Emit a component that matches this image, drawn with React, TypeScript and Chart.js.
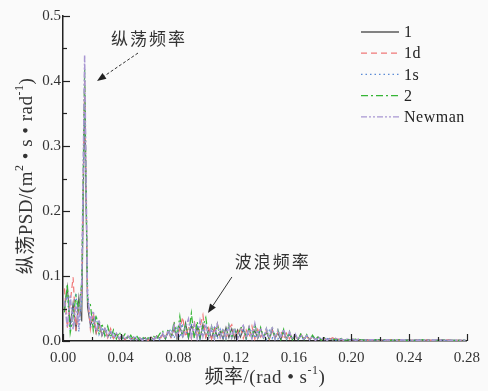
import { useEffect, useRef } from 'react';
import { Chart, registerables } from 'chart.js';

Chart.register(...registerables);

// Frequency grid, rad/s
const freq = [
  0.001, 0.003, 0.005, 0.007, 0.009, 0.011, 0.013, 0.015, 0.017, 0.019,
  0.021, 0.023, 0.025, 0.027, 0.029, 0.031, 0.033, 0.035, 0.037, 0.039,
  0.041, 0.043, 0.045, 0.047, 0.049, 0.051, 0.053, 0.055, 0.057, 0.059,
  0.061, 0.063, 0.065, 0.067, 0.069, 0.071, 0.073, 0.075, 0.077, 0.079,
  0.081, 0.083, 0.085, 0.087, 0.089, 0.091, 0.093, 0.095, 0.097, 0.099,
  0.101, 0.103, 0.105, 0.107, 0.109, 0.111, 0.113, 0.115, 0.117, 0.119,
  0.121, 0.123, 0.125, 0.127, 0.129, 0.131, 0.133, 0.135, 0.137, 0.139,
  0.141, 0.143, 0.145, 0.147, 0.149, 0.151, 0.153, 0.155, 0.157, 0.159,
  0.161, 0.163, 0.165, 0.167, 0.169, 0.171, 0.173, 0.175, 0.177, 0.179,
  0.181, 0.183, 0.185, 0.187, 0.189, 0.191, 0.193, 0.195, 0.197, 0.199,
  0.201, 0.203, 0.205, 0.207, 0.209, 0.211, 0.213, 0.215, 0.217, 0.219,
  0.221, 0.223, 0.225, 0.227, 0.229, 0.231, 0.233, 0.235, 0.237, 0.239,
  0.241, 0.243, 0.245, 0.247, 0.249, 0.251, 0.253, 0.255, 0.257, 0.259,
  0.261, 0.263, 0.265, 0.267, 0.269, 0.271, 0.273, 0.275, 0.277, 0.279,
];

// Surge PSD, m^2·s·rad^-1
const psd1 = [
  0.048, 0.083, 0.024, 0.058, 0.015, 0.067, 0.030, 0.38, 0.052, 0.024,
  0.036, 0.012, 0.029, 0.008, 0.019, 0.006, 0.014, 0.004, 0.011, 0.003,
  0.008, 0.002, 0.007, 0.003, 0.006, 0.002, 0.004, 0.002, 0.005, 0.001,
  0.006, 0.002, 0.008, 0.004, 0.010, 0.003, 0.015, 0.006, 0.019, 0.004,
  0.022, 0.007, 0.028, 0.004, 0.024, 0.008, 0.021, 0.003, 0.026, 0.006,
  0.018, 0.004, 0.020, 0.007, 0.015, 0.003, 0.021, 0.005, 0.019, 0.004,
  0.017, 0.006, 0.018, 0.003, 0.022, 0.005, 0.016, 0.004, 0.019, 0.006,
  0.013, 0.003, 0.018, 0.005, 0.012, 0.002, 0.014, 0.004, 0.010, 0.003,
  0.009, 0.002, 0.010, 0.003, 0.008, 0.002, 0.007, 0.002, 0.006, 0.001,
  0.005, 0.002, 0.004, 0.001, 0.004, 0.002, 0.003, 0.001, 0.002, 0.002,
  0.003, 0.002, 0.002, 0.001, 0.002, 0.002, 0.001, 0.002, 0.002, 0.001,
  0.001, 0.002, 0.001, 0.002, 0.001, 0.001, 0.002, 0.001, 0.001, 0.002,
  0.001, 0.001, 0.002, 0.001, 0.001, 0.001, 0.002, 0.001, 0.001, 0.001,
  0.001, 0.002, 0.001, 0.001, 0.001, 0.001, 0.001, 0.001, 0.001, 0.001,
];

const psd1d = [
  0.081, 0.020, 0.059, 0.098, 0.016, 0.052, 0.079, 0.40, 0.071, 0.018,
  0.044, 0.013, 0.025, 0.009, 0.018, 0.005, 0.019, 0.004, 0.010, 0.003,
  0.007, 0.002, 0.006, 0.002, 0.005, 0.001, 0.005, 0.002, 0.003, 0.001,
  0.005, 0.001, 0.007, 0.002, 0.009, 0.004, 0.017, 0.003, 0.026, 0.005,
  0.019, 0.037, 0.006, 0.023, 0.004, 0.031, 0.005, 0.022, 0.040, 0.006,
  0.020, 0.003, 0.017, 0.027, 0.005, 0.015, 0.004, 0.019, 0.025, 0.006,
  0.012, 0.022, 0.004, 0.017, 0.005, 0.023, 0.003, 0.018, 0.006, 0.013,
  0.016, 0.003, 0.017, 0.004, 0.013, 0.016, 0.002, 0.012, 0.003, 0.011,
  0.008, 0.002, 0.009, 0.003, 0.006, 0.002, 0.007, 0.001, 0.005, 0.002,
  0.004, 0.001, 0.003, 0.005, 0.001, 0.003, 0.002, 0.001, 0.003, 0.001,
  0.002, 0.003, 0.002, 0.001, 0.002, 0.001, 0.002, 0.001, 0.002, 0.001,
  0.002, 0.001, 0.001, 0.002, 0.001, 0.002, 0.001, 0.001, 0.001, 0.001,
  0.001, 0.002, 0.001, 0.001, 0.001, 0.002, 0.001, 0.001, 0.002, 0.001,
  0.001, 0.001, 0.001, 0.002, 0.001, 0.001, 0.001, 0.001, 0.001, 0.001,
];

const psd1s = [
  0.057, 0.069, 0.017, 0.049, 0.074, 0.014, 0.066, 0.36, 0.081, 0.022,
  0.027, 0.038, 0.010, 0.021, 0.007, 0.020, 0.005, 0.012, 0.004, 0.009,
  0.002, 0.007, 0.003, 0.006, 0.001, 0.007, 0.002, 0.004, 0.001, 0.003,
  0.006, 0.001, 0.006, 0.002, 0.011, 0.003, 0.013, 0.019, 0.004, 0.020,
  0.005, 0.024, 0.017, 0.004, 0.027, 0.006, 0.025, 0.003, 0.014, 0.028,
  0.004, 0.016, 0.021, 0.003, 0.018, 0.005, 0.016, 0.022, 0.004, 0.017,
  0.006, 0.011, 0.019, 0.003, 0.013, 0.018, 0.004, 0.017, 0.005, 0.011,
  0.002, 0.016, 0.004, 0.013, 0.003, 0.014, 0.012, 0.002, 0.011, 0.003,
  0.010, 0.002, 0.008, 0.001, 0.009, 0.002, 0.005, 0.006, 0.001, 0.005,
  0.001, 0.004, 0.002, 0.003, 0.001, 0.002, 0.004, 0.001, 0.002, 0.003,
  0.002, 0.002, 0.001, 0.002, 0.002, 0.001, 0.001, 0.002, 0.001, 0.002,
  0.001, 0.001, 0.002, 0.001, 0.001, 0.002, 0.001, 0.001, 0.002, 0.001,
  0.001, 0.001, 0.001, 0.002, 0.001, 0.001, 0.001, 0.002, 0.001, 0.001,
  0.002, 0.001, 0.001, 0.001, 0.001, 0.001, 0.001, 0.001, 0.001, 0.001,
];

const psd2 = [
  0.044, 0.088, 0.012, 0.037, 0.069, 0.047, 0.090, 0.42, 0.062, 0.056,
  0.016, 0.040, 0.010, 0.027, 0.008, 0.023, 0.005, 0.017, 0.003, 0.014,
  0.004, 0.011, 0.002, 0.009, 0.001, 0.008, 0.002, 0.007, 0.001, 0.005,
  0.002, 0.007, 0.003, 0.011, 0.016, 0.004, 0.019, 0.005, 0.030, 0.006,
  0.038, 0.005, 0.025, 0.007, 0.043, 0.004, 0.030, 0.006, 0.023, 0.036,
  0.005, 0.023, 0.004, 0.026, 0.006, 0.020, 0.003, 0.025, 0.005, 0.021,
  0.004, 0.019, 0.024, 0.005, 0.020, 0.003, 0.027, 0.004, 0.021, 0.005,
  0.019, 0.003, 0.022, 0.004, 0.017, 0.002, 0.018, 0.003, 0.015, 0.002,
  0.009, 0.002, 0.012, 0.001, 0.010, 0.002, 0.009, 0.002, 0.007, 0.001,
  0.005, 0.001, 0.004, 0.002, 0.003, 0.001, 0.004, 0.001, 0.002, 0.001,
  0.002, 0.003, 0.002, 0.002, 0.001, 0.002, 0.002, 0.001, 0.002, 0.002,
  0.001, 0.002, 0.001, 0.001, 0.002, 0.001, 0.002, 0.001, 0.001, 0.001,
  0.002, 0.001, 0.001, 0.001, 0.002, 0.001, 0.001, 0.001, 0.001, 0.001,
  0.001, 0.001, 0.002, 0.001, 0.001, 0.001, 0.001, 0.001, 0.001, 0.001,
];

const psdNewman = [
  0.062, 0.021, 0.071, 0.018, 0.055, 0.026, 0.092, 0.44, 0.070, 0.031,
  0.046, 0.015, 0.032, 0.011, 0.021, 0.007, 0.016, 0.005, 0.012, 0.004,
  0.009, 0.003, 0.008, 0.002, 0.006, 0.002, 0.005, 0.001, 0.004, 0.002,
  0.005, 0.002, 0.007, 0.003, 0.012, 0.004, 0.017, 0.005, 0.024, 0.006,
  0.029, 0.005, 0.021, 0.034, 0.006, 0.026, 0.004, 0.031, 0.007, 0.025,
  0.005, 0.022, 0.003, 0.026, 0.006, 0.019, 0.004, 0.023, 0.005, 0.020,
  0.003, 0.018, 0.024, 0.005, 0.021, 0.004, 0.027, 0.006, 0.020, 0.003,
  0.019, 0.004, 0.022, 0.003, 0.017, 0.005, 0.018, 0.002, 0.014, 0.003,
  0.011, 0.002, 0.009, 0.003, 0.008, 0.002, 0.007, 0.001, 0.006, 0.002,
  0.005, 0.001, 0.004, 0.002, 0.004, 0.001, 0.003, 0.001, 0.003, 0.001,
  0.002, 0.001, 0.003, 0.001, 0.002, 0.001, 0.002, 0.002, 0.001, 0.002,
  0.002, 0.001, 0.002, 0.001, 0.002, 0.001, 0.001, 0.002, 0.001, 0.001,
  0.002, 0.001, 0.001, 0.001, 0.002, 0.001, 0.001, 0.001, 0.001, 0.002,
  0.001, 0.001, 0.001, 0.001, 0.001, 0.001, 0.001, 0.001, 0.001, 0.001,
];

const seriesLabels = ['1', '1d', '1s', '2', 'Newman'];
const seriesValues = [psd1, psd1d, psd1s, psd2, psdNewman];
const seriesColors = ['#5a5a5a', '#f07878', '#5b8bd6', '#35b535', '#a896d2'];
const seriesDashes = [[], [6, 4], [1.5, 3], [7, 3, 2, 3], [6, 2, 2, 2, 2, 2]];
const seriesWidths = [1.1, 1.2, 1.2, 1.2, 1.5];
const seriesOrder = [5, 4, 3, 2, 1];

const xTicks = [0, 0.04, 0.08, 0.12, 0.16, 0.2, 0.24, 0.28];
const yTicks = [0, 0.1, 0.2, 0.3, 0.4, 0.5];

const SERIF = '"Liberation Serif", "Times New Roman", serif';
const MIXED = '"Liberation Serif", "Noto Sans CJK SC", serif';
const CJK = '"Noto Sans CJK SC", sans-serif';

type Seg = { t: string; sup?: boolean };

function drawSegs(ctx: CanvasRenderingContext2D, segs: Seg[], x: number, y: number, size: number) {
  const supSize = Math.round(size * 0.62);
  (ctx as any).letterSpacing = '0.5px';
  let total = 0;
  for (const s of segs) {
    ctx.font = `${s.sup ? supSize : size}px ${MIXED}`;
    total += ctx.measureText(s.t).width;
  }
  let cx = x - total / 2;
  ctx.textAlign = 'left';
  ctx.textBaseline = 'middle';
  for (const s of segs) {
    ctx.font = `${s.sup ? supSize : size}px ${MIXED}`;
    ctx.fillText(s.t, cx, s.sup ? y - size * 0.38 : y);
    cx += ctx.measureText(s.t).width;
  }
  (ctx as any).letterSpacing = '0px';
}

function drawArrow(
  ctx: CanvasRenderingContext2D,
  x1: number, y1: number, x2: number, y2: number,
  dash: number[],
) {
  const ang = Math.atan2(y2 - y1, x2 - x1);
  const head = 9;
  const hw = 3.5;
  ctx.save();
  ctx.strokeStyle = '#333';
  ctx.fillStyle = '#222';
  ctx.lineWidth = 1;
  ctx.setLineDash(dash);
  ctx.beginPath();
  ctx.moveTo(x1, y1);
  ctx.lineTo(x2 - Math.cos(ang) * head, y2 - Math.sin(ang) * head);
  ctx.stroke();
  ctx.setLineDash([]);
  ctx.beginPath();
  ctx.moveTo(x2, y2);
  ctx.lineTo(x2 - Math.cos(ang) * head + Math.sin(ang) * hw, y2 - Math.sin(ang) * head - Math.cos(ang) * hw);
  ctx.lineTo(x2 - Math.cos(ang) * head - Math.sin(ang) * hw, y2 - Math.sin(ang) * head + Math.cos(ang) * hw);
  ctx.closePath();
  ctx.fill();
  ctx.restore();
}

const decorations = {
  id: 'decorations',
  beforeDraw(chart: Chart) {
    const { ctx, width, height } = chart;
    ctx.save();
    ctx.fillStyle = '#fafafa';
    ctx.fillRect(0, 0, width, height);
    ctx.restore();
  },
  afterDraw(chart: Chart) {
    const { ctx, chartArea } = chart;
    const xs = chart.scales.x;
    const ys = chart.scales.y;
    ctx.save();

    // inward ticks
    ctx.strokeStyle = '#222';
    ctx.lineWidth = 1.2;
    ctx.setLineDash([]);
    for (let k = 0; k <= 14; k++) {
      const v = k * 0.02;
      const px = Math.round(xs.getPixelForValue(v)) + 0.5;
      const len = k % 2 === 0 ? 7 : 4;
      ctx.beginPath();
      ctx.moveTo(px, chartArea.bottom);
      ctx.lineTo(px, chartArea.bottom - len);
      ctx.stroke();
    }
    for (let k = 0; k <= 10; k++) {
      const v = k * 0.05;
      const py = Math.round(ys.getPixelForValue(v)) + 0.5;
      const len = k % 2 === 0 ? 7 : 4;
      ctx.beginPath();
      ctx.moveTo(chartArea.left, py);
      ctx.lineTo(chartArea.left + len, py);
      ctx.stroke();
    }

    // legend
    const lx0 = 361;
    const lx1 = 399;
    chart.data.datasets.forEach((ds: any, i: number) => {
      const y = 32 + i * 21.2;
      ctx.strokeStyle = ds.borderColor;
      ctx.lineWidth = 1.3;
      ctx.setLineDash(ds.borderDash || []);
      ctx.beginPath();
      ctx.moveTo(lx0, y);
      ctx.lineTo(lx1, y);
      ctx.stroke();
      ctx.setLineDash([]);
      ctx.fillStyle = '#222';
      ctx.font = `16px ${SERIF}`;
      (ctx as any).letterSpacing = '0.5px';
      ctx.textAlign = 'left';
      ctx.textBaseline = 'middle';
      ctx.fillText(ds.label, 404, y + 1);
      (ctx as any).letterSpacing = '0px';
    });

    // annotations
    ctx.fillStyle = '#333';
    ctx.font = `17px ${CJK}`;
    (ctx as any).letterSpacing = '2px';
    ctx.textAlign = 'center';
    ctx.textBaseline = 'middle';
    ctx.fillText('纵荡频率', xs.getPixelForValue(0.0596), ys.getPixelForValue(0.465));
    ctx.fillText('波浪频率', xs.getPixelForValue(0.1455), ys.getPixelForValue(0.1215));
    (ctx as any).letterSpacing = '0px';
    drawArrow(
      ctx,
      xs.getPixelForValue(0.052), ys.getPixelForValue(0.443),
      xs.getPixelForValue(0.0236), ys.getPixelForValue(0.40),
      [3, 2],
    );
    drawArrow(
      ctx,
      xs.getPixelForValue(0.1171), ys.getPixelForValue(0.0985),
      xs.getPixelForValue(0.1005), ys.getPixelForValue(0.043),
      [],
    );

    // axis titles
    ctx.fillStyle = '#333';
    drawSegs(
      ctx,
      [{ t: '频率/(rad • s' }, { t: '-1', sup: true }, { t: ')' }],
      (chartArea.left + chartArea.right) / 2,
      378,
      19,
    );
    ctx.save();
    ctx.translate(27, 176);
    ctx.rotate(-Math.PI / 2);
    drawSegs(
      ctx,
      [
        { t: '纵荡PSD/(m' },
        { t: '2', sup: true },
        { t: ' • s • rad' },
        { t: '-1', sup: true },
        { t: ')' },
      ],
      0,
      0,
      19,
    );
    ctx.restore();

    ctx.restore();
  },
};

export default function App() {
  const canvasRef = useRef<HTMLCanvasElement | null>(null);

  useEffect(() => {
    document.body.style.margin = '0';
    const canvas = canvasRef.current;
    if (!canvas) return;

    const datasets = seriesLabels.map((label, s) => ({
      label,
      data: freq.map((x, i) => ({ x, y: seriesValues[s][i] })),
      borderColor: seriesColors[s],
      backgroundColor: seriesColors[s],
      borderWidth: seriesWidths[s],
      borderDash: seriesDashes[s],
      pointRadius: 0,
      fill: false,
      tension: 0,
      order: seriesOrder[s],
    }));

    const chart = new Chart(canvas, {
      type: 'line',
      data: { datasets },
      options: {
        responsive: false,
        animation: false,
        layout: { padding: { top: 16, right: 21, left: 0, bottom: 0 } },
        plugins: {
          legend: { display: false },
          tooltip: { enabled: false },
        },
        scales: {
          x: {
            type: 'linear',
            min: 0,
            max: 0.28,
            afterFit: (s: any) => {
              s.height = 50;
            },
            afterBuildTicks: (s: any) => {
              s.ticks = xTicks.map((v) => ({ value: v }));
            },
            grid: { display: false, drawTicks: false },
            border: { display: true, color: '#222', width: 1.5 },
            ticks: {
              padding: 8,
              color: '#333',
              maxRotation: 0,
              autoSkip: false,
              font: { family: SERIF, size: 15 },
              callback: (v: any) => Number(v).toFixed(2),
            },
          },
          y: {
            type: 'linear',
            min: 0,
            max: 0.5,
            afterFit: (s: any) => {
              s.width = 63;
            },
            afterBuildTicks: (s: any) => {
              s.ticks = yTicks.map((v) => ({ value: v }));
            },
            grid: { display: false, drawTicks: false },
            border: { display: true, color: '#222', width: 1.5 },
            ticks: {
              padding: 2,
              color: '#333',
              font: { family: SERIF, size: 15 },
              callback: (v: any) => Number(v).toFixed(1),
            },
          },
        },
      },
      plugins: [decorations],
    });

    return () => chart.destroy();
  }, []);

  return (
    <div style={{ position: 'absolute', left: 0, top: 0, width: 488, height: 391 }}>
      <canvas ref={canvasRef} width={488} height={391} />
    </div>
  );
}
